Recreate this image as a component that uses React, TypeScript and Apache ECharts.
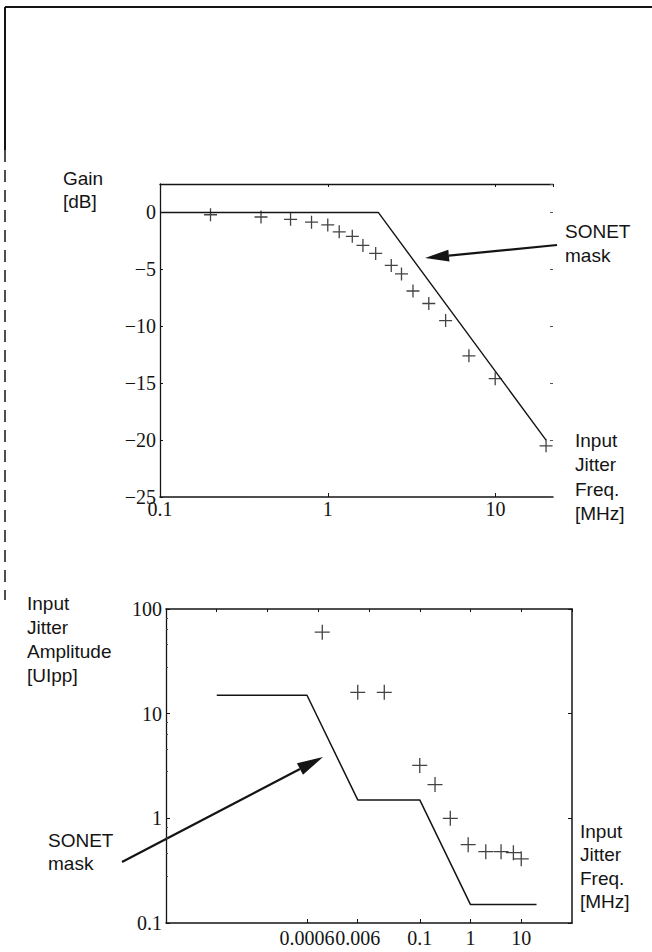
import React, { useEffect, useRef } from "react";
import * as echarts from "echarts";

// ---- Top chart: jitter transfer (Gain vs. frequency) ----
const gainFreq = [0.2, 0.4, 0.6, 0.8, 1.0, 1.17, 1.4, 1.62, 1.93, 2.39, 2.75, 3.22, 4.0, 5.04, 6.94, 9.95, 20];
const gainDb = [-0.2, -0.4, -0.6, -0.85, -1.1, -1.7, -2.1, -2.9, -3.6, -4.65, -5.4, -6.9, -8.0, -9.5, -12.6, -14.6, -20.5];
const gainMaskFreq = [0.1, 2, 20];
const gainMaskDb = [0, 0, -20];
const gainXTicks = [0.1, 1, 10];

// ---- Bottom chart: jitter tolerance ----
const tolFreq = [0.0012, 0.006, 0.02, 0.1, 0.2, 0.4, 0.9, 2, 4, 7, 10];
const tolAmp = [60, 16, 16, 3.2, 2.1, 1.0, 0.56, 0.48, 0.48, 0.47, 0.41];
const tolMaskFreq = [0.00001, 0.0006, 0.006, 0.1, 1, 20];
const tolMaskAmp = [15, 15, 1.5, 1.5, 0.15, 0.15];
const tolXTicks = [0.0006, 0.006, 0.1, 1, 10];

const INK = "#141414";
const SERIF = "'Liberation Serif', 'DejaVu Serif', serif";
const SANS = "'Liberation Sans', Arial, sans-serif";
const PLUS = "path://M0,6H12M6,0V12";

function zip(a: number[], b: number[]) {
  return a.map((v, i) => [v, b[i]]);
}

function minusFmt(v: number) {
  return v < 0 ? "\u2212" + Math.abs(v) : String(v);
}

function numFmt(v: number) {
  return String(Number(Number(v).toPrecision(3)));
}

function arrow(x1: number, y1: number, x2: number, y2: number, len: number, half: number) {
  const dx = x2 - x1;
  const dy = y2 - y1;
  const d = Math.sqrt(dx * dx + dy * dy);
  const ux = dx / d;
  const uy = dy / d;
  const bx = x2 - ux * len;
  const by = y2 - uy * len;
  const px = -uy * half;
  const py = ux * half;
  return [
    { type: "line", shape: { x1, y1, x2: bx, y2: by }, style: { stroke: INK, lineWidth: 2.2 } },
    {
      type: "polygon",
      shape: { points: [[x2, y2], [bx + px, by + py], [bx - px, by - py]] },
      style: { fill: INK },
    },
  ];
}

function label(lines: string[], x: number, y: number, gap: number) {
  return lines.map((t, i) => ({
    type: "text",
    x,
    y: y + i * gap,
    style: { text: t, font: `19px ${SANS}`, fill: INK, textVerticalAlign: "middle" },
  }));
}

export default function App() {
  const ref = useRef<HTMLDivElement>(null);

  useEffect(() => {
    if (!ref.current) return;
    const chart = echarts.init(ref.current, null, { renderer: "svg" });

    const axisLabelSerif = { fontFamily: SERIF, fontSize: 20, color: INK };
    const line = (w: number) => ({ show: true, onZero: false, lineStyle: { color: INK, width: w } });

    chart.setOption({
      animation: false,
      backgroundColor: "#ffffff",
      grid: [
        { left: 160, top: 184, width: 393, height: 313 },
        { left: 166, top: 609, width: 406, height: 314 },
      ],
      xAxis: [
        {
          type: "log",
          gridIndex: 0,
          logBase: 10,
          min: 0.1,
          max: 22,
          position: "bottom",
          axisLine: line(1.5),
          axisTick: { show: true, inside: true, length: 4, lineStyle: { color: INK }, customValues: gainXTicks },
          axisLabel: { ...axisLabelSerif, margin: 2, customValues: gainXTicks, formatter: numFmt },
          splitLine: { show: false },
        },
        {
          type: "log",
          gridIndex: 0,
          logBase: 10,
          min: 0.1,
          max: 22,
          position: "top",
          axisLine: line(1.3),
          axisTick: { show: true, inside: true, length: 3, lineStyle: { color: INK } },
          axisLabel: { show: false },
          splitLine: { show: false },
        },
        {
          type: "log",
          gridIndex: 1,
          logBase: 10,
          min: 0.000001,
          max: 100,
          position: "bottom",
          axisLine: line(1.5),
          axisTick: { show: true, inside: true, length: 4, lineStyle: { color: INK }, customValues: tolXTicks },
          axisLabel: { ...axisLabelSerif, margin: 5, customValues: tolXTicks, formatter: numFmt },
          splitLine: { show: false },
        },
        {
          type: "log",
          gridIndex: 1,
          logBase: 10,
          min: 0.000001,
          max: 100,
          position: "top",
          axisLine: line(1.5),
          axisTick: { show: true, inside: true, length: 3, lineStyle: { color: INK } },
          axisLabel: { show: false },
          splitLine: { show: false },
        },
      ],
      yAxis: [
        {
          type: "value",
          gridIndex: 0,
          min: -25,
          max: 2.5,
          interval: 5,
          position: "left",
          axisLine: line(1.3),
          axisTick: { show: true, inside: true, length: 3, lineStyle: { color: INK } },
          axisLabel: { ...axisLabelSerif, margin: 4, showMaxLabel: false, formatter: minusFmt },
          splitLine: { show: false },
        },
        {
          type: "value",
          gridIndex: 0,
          min: -25,
          max: 2.5,
          interval: 5,
          position: "right",
          axisLine: { show: false, onZero: false },
          axisTick: { show: true, inside: true, length: 3, lineStyle: { color: "#555" } },
          axisLabel: { show: false },
          splitLine: { show: false },
        },
        {
          type: "log",
          gridIndex: 1,
          logBase: 10,
          min: 0.1,
          max: 100,
          position: "left",
          axisLine: line(1.3),
          axisTick: { show: true, inside: true, length: 4, lineStyle: { color: INK } },
          minorTick: { show: true, splitNumber: 5, length: 2, lineStyle: { color: "#444" } },
          axisLabel: { ...axisLabelSerif, margin: 4, formatter: numFmt },
          splitLine: { show: false },
        },
        {
          type: "log",
          gridIndex: 1,
          logBase: 10,
          min: 0.1,
          max: 100,
          position: "right",
          axisLine: line(1.5),
          axisTick: { show: true, inside: true, length: 4, lineStyle: { color: INK } },
          axisLabel: { show: false },
          splitLine: { show: false },
        },
      ],
      series: [
        {
          type: "line",
          name: "SONET mask (transfer)",
          xAxisIndex: 0,
          yAxisIndex: 0,
          data: zip(gainMaskFreq, gainMaskDb),
          showSymbol: false,
          symbol: "none",
          lineStyle: { color: INK, width: 1.4 },
        },
        {
          type: "scatter",
          name: "Measured gain",
          xAxisIndex: 0,
          yAxisIndex: 0,
          data: zip(gainFreq, gainDb),
          symbol: PLUS,
          symbolSize: 13,
          itemStyle: { color: "transparent", borderColor: INK, borderWidth: 1.3 },
        },
        {
          type: "line",
          name: "SONET mask (tolerance)",
          xAxisIndex: 2,
          yAxisIndex: 2,
          data: zip(tolMaskFreq, tolMaskAmp),
          showSymbol: false,
          symbol: "none",
          lineStyle: { color: INK, width: 1.5 },
        },
        {
          type: "scatter",
          name: "Measured tolerance",
          xAxisIndex: 2,
          yAxisIndex: 2,
          data: zip(tolFreq, tolAmp),
          symbol: PLUS,
          symbolSize: 15,
          itemStyle: { color: "transparent", borderColor: INK, borderWidth: 1.3 },
        },
      ],
      graphic: [
        // scanned page border
        { type: "line", shape: { x1: 5, y1: 7, x2: 652, y2: 7 }, style: { stroke: INK, lineWidth: 2 } },
        { type: "line", shape: { x1: 5, y1: 7, x2: 5, y2: 150 }, style: { stroke: INK, lineWidth: 2 } },
        { type: "line", shape: { x1: 5, y1: 150, x2: 5, y2: 600 }, style: { stroke: INK, lineWidth: 1.5, lineDash: [12, 8] } },
        ...label(["Gain", "[dB]"], 63, 178, 23),
        ...label(["SONET", "mask"], 565, 231, 24),
        ...label(["Input", "Jitter", "Freq.", "[MHz]"], 575, 440, 24.5),
        ...label(["Input", "Jitter", "Amplitude", "[UIpp]"], 27, 603, 24),
        ...label(["SONET", "mask"], 48, 840, 23),
        ...label(["Input", "Jitter", "Freq.", "[MHz]"], 580, 831, 23.5),
        ...arrow(557, 245, 425, 258, 24, 6),
        ...arrow(122, 862, 323, 757, 26, 6.5),
      ],
    });

    return () => chart.dispose();
  }, []);

  return (
    <div
      ref={ref}
      style={{ position: "absolute", left: 0, top: 0, width: 652, height: 952, background: "#fff" }}
    />
  );
}
